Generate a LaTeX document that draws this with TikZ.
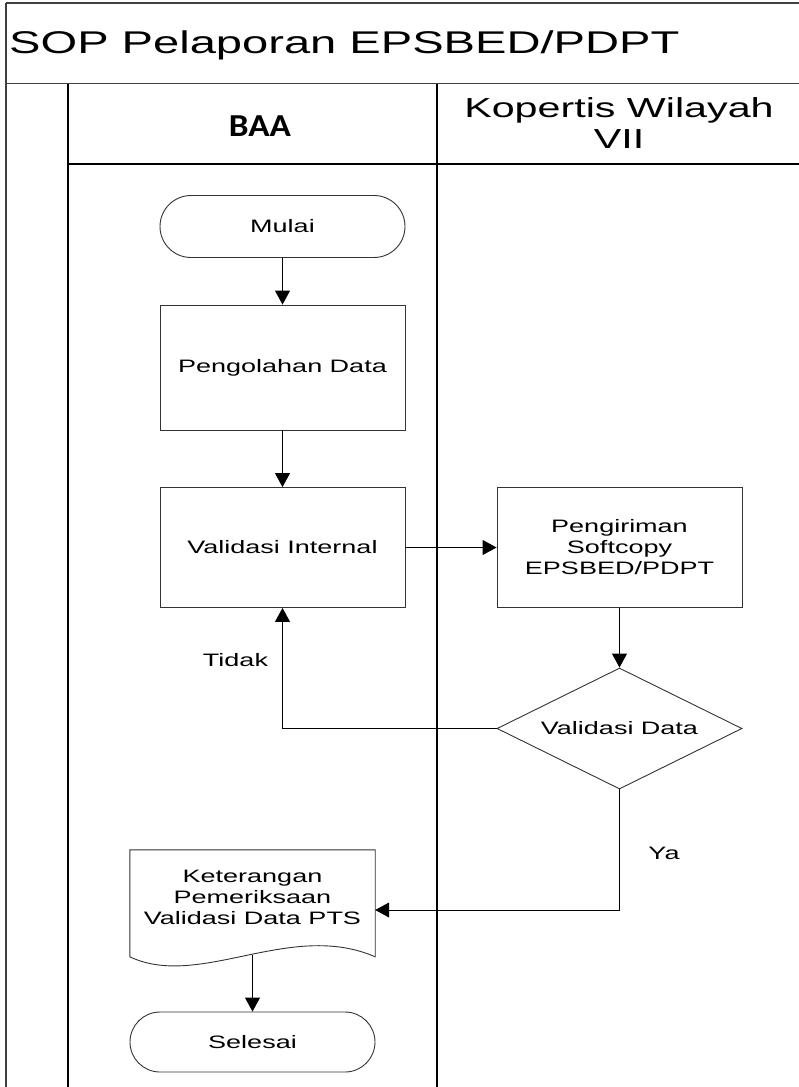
\documentclass[tikz,border=0pt]{standalone}
\usepackage{fontspec}
\setmainfont{Liberation Sans}[FakeStretch=1.5]
\newfontfamily\baafont{Carlito}[FakeStretch=1.1]
\usetikzlibrary{shapes.geometric,shapes.misc,arrows.meta}
\newcommand\bodyfont{\fontsize{18}{21}\selectfont}
\begin{document}
\begin{tikzpicture}[x=1pt,y=-1pt,
  frameline/.style={draw=black!75,line width=1.4pt},
  laneline/.style={draw=black,line width=1.2pt},
  procbox/.style={draw=black!80,line width=0.9pt,rectangle,minimum width=245pt,minimum height=120pt,inner sep=0pt,align=center,font=\bodyfont},
  termbox/.style={draw=black!80,line width=0.9pt,rounded rectangle,minimum width=245pt,minimum height=62pt,inner sep=0pt,font=\bodyfont},
  decbox/.style={draw=black!80,line width=0.9pt,diamond,shape aspect=2,minimum width=245pt,minimum height=121pt,inner sep=0pt,font=\bodyfont},
  arr/.style={draw=black,line width=0.9pt,-{Triangle[length=14pt,width=15pt]}},
  lbl/.style={font=\bodyfont,inner sep=0pt}]
\useasboundingbox (0,0) rectangle (799,1087);
% frame and lanes
\draw[frameline] (6,3) -- (800,3);
\draw[frameline] (6,3) -- (6,1088);
\draw[frameline] (6,83.5) -- (800,83.5);
\draw[laneline] (68,84) -- (68,1088);
\draw[laneline] (437,84) -- (437,1088);
\draw[laneline] (68,164) -- (800,164);
% headers
\node[anchor=base west,inner sep=0pt,font=\fontsize{31.4}{36}\selectfont] (title) at (9,53.3) {SOP Pelaporan EPSBED/PDPT};
\node[anchor=base,inner sep=0pt,font=\baafont\bfseries\fontsize{32}{36}\selectfont] (baa) at (260,136) {BAA};
\node[align=center,inner sep=0pt,font=\fontsize{27.5}{31}\selectfont] (kop) at (619,123) {Kopertis Wilayah\\VII};
% nodes
\node[termbox] (mulai) at (282.5,226.5) {Mulai};
\node[procbox,minimum height=125pt] (olah) at (282.5,367.5) {Pengolahan Data};
\node[procbox] (valint) at (282.5,547.5) {Validasi Internal};
\node[procbox] (kirim) at (619.5,547.5) {Pengiriman\\Softcopy\\EPSBED/PDPT};
\node[decbox] (vdata) at (619.5,728.5) {Validasi Data};
\node[minimum width=245pt,minimum height=120pt,inner sep=0pt] (doc) at (252.5,910) {};
\draw[draw=black!80,line width=0.9pt] (doc.north west) -- (doc.north east) -- ([yshift=-107pt]doc.north east)
  .. controls ([xshift=-85pt,yshift=-70pt]doc.north east) and ([xshift=70pt,yshift=-140pt]doc.north west) .. ([yshift=-107pt]doc.north west) -- cycle;
\node[align=center,font=\bodyfont,inner sep=0pt] (doctext) at (252.5,897) {Keterangan\\Pemeriksaan\\Validasi Data PTS};
\coordinate (docb) at (252.5,955);
\node[termbox,minimum height=60pt] (selesai) at (252.5,1042) {Selesai};
% labels
\node[lbl] (tidak) at (235.5,660) {Tidak};
\node[lbl] (ya) at (664,853) {Ya};
% connectors
\draw[arr] (mulai.south) -- (olah.north);
\draw[arr] (olah.south) -- (valint.north);
\draw[arr] (valint.east) -- (kirim.west);
\draw[arr] (kirim.south) -- (vdata.north);
\draw[arr] (vdata.west) -| (valint.south);
\draw[arr] (vdata.south) |- (doc.east);
\draw[arr] (docb) -- (selesai.north);
\end{tikzpicture}
\end{document}
